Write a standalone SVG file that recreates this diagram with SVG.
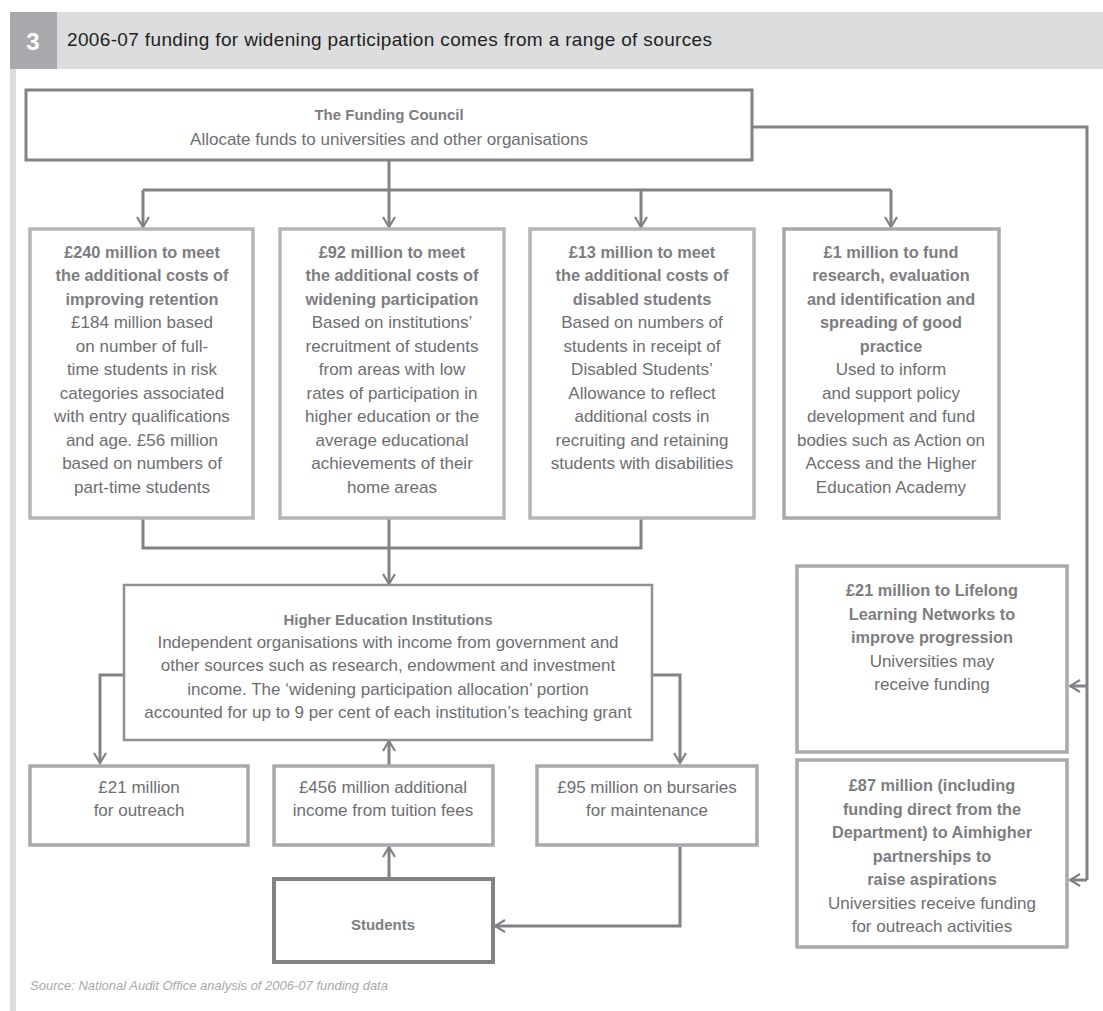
<svg xmlns="http://www.w3.org/2000/svg" width="1103" height="1011" viewBox="0 0 1103 1011">
<style>
text{font-family:"Liberation Sans",Arial,sans-serif;fill:#6d6e71;text-anchor:middle;font-size:17px}
.b{font-weight:bold;fill:#7d7d80;font-size:16.3px}
.t{font-weight:bold;fill:#7d7d80;font-size:15px}
.conn{fill:none;stroke:#808285;stroke-width:3}
.light{fill:#fff;stroke:#b4b5b8;stroke-width:3.5}
.mid{fill:#fff;stroke:#a7a9ac;stroke-width:3.5}
.dark{fill:#fff;stroke:#808285;stroke-width:3}
</style>
<defs>
<marker id="ar" markerUnits="userSpaceOnUse" viewBox="0 0 14 14" refX="12" refY="7" markerWidth="14" markerHeight="14" orient="auto">
<path d="M2,1 L12,7 L2,13" fill="none" stroke="#808285" stroke-width="2.2"/>
</marker>
</defs>
<rect x="0" y="0" width="1103" height="1011" fill="#fff"/>
<g id="header">
<rect x="10" y="12" width="1093" height="57" fill="#dcddde"/>
<rect x="10" y="12" width="47" height="57" fill="#a7a9ac"/>
<rect x="10" y="69" width="6" height="942" fill="#dcddde"/>
<text x="33" y="50" style="fill:#fff;font-weight:bold;font-size:24px">3</text>
<text x="67" y="46" textLength="645" style="fill:#231f20;font-size:19px;text-anchor:start">2006-07 funding for widening participation comes from a range of sources</text>
</g>
<g id="connectors">
<path class="conn" d="M389,160 V190"/>
<path class="conn" d="M143,190 H891"/>
<path class="conn" d="M143,190 V227" marker-end="url(#ar)"/>
<path class="conn" d="M389,190 V227" marker-end="url(#ar)"/>
<path class="conn" d="M641,190 V227" marker-end="url(#ar)"/>
<path class="conn" d="M891,190 V227" marker-end="url(#ar)"/>
<path class="conn" d="M143,519 V548 H641 V519"/>
<path class="conn" d="M389,519 V584" marker-end="url(#ar)"/>
<path class="conn" d="M124,675 H100 V763" marker-end="url(#ar)"/>
<path class="conn" d="M652,675 H680 V763" marker-end="url(#ar)"/>
<path class="conn" d="M389,765 V741" marker-end="url(#ar)"/>
<path class="conn" d="M389,878 V847" marker-end="url(#ar)"/>
<path class="conn" d="M680,847 V926 H495" marker-end="url(#ar)"/>
<path class="conn" d="M753,127 H1087 V880"/>
<path class="conn" d="M1087,686 H1070" marker-end="url(#ar)"/>
<path class="conn" d="M1087,880 H1070" marker-end="url(#ar)"/>
</g>
<g id="funding-council">
<rect class="dark" x="26" y="90" width="726" height="70"/>
<text class="t" x="389" y="120">The Funding Council</text>
<text x="389" y="145">Allocate funds to universities and other organisations</text>
</g>
<g id="retention">
<rect class="light" x="30" y="229" width="223" height="289"/>
<text class="b" x="142" y="258">£240 million to meet</text>
<text class="b" x="142" y="281">the additional costs of</text>
<text class="b" x="142" y="305">improving retention</text>
<text x="142" y="328">£184 million based</text>
<text x="142" y="352">on number of full-</text>
<text x="142" y="375">time students in risk</text>
<text x="142" y="399">categories associated</text>
<text x="142" y="422">with entry qualifications</text>
<text x="142" y="446">and age. £56 million</text>
<text x="142" y="469">based on numbers of</text>
<text x="142" y="493">part-time students</text>
</g>
<g id="widening">
<rect class="light" x="280" y="229" width="224" height="289"/>
<text class="b" x="392" y="258">£92 million to meet</text>
<text class="b" x="392" y="281">the additional costs of</text>
<text class="b" x="392" y="305">widening participation</text>
<text x="392" y="328">Based on institutions’</text>
<text x="392" y="352">recruitment of students</text>
<text x="392" y="375">from areas with low</text>
<text x="392" y="399">rates of participation in</text>
<text x="392" y="422">higher education or the</text>
<text x="392" y="446">average educational</text>
<text x="392" y="469">achievements of their</text>
<text x="392" y="493">home areas</text>
</g>
<g id="disabled">
<rect class="light" x="530" y="229" width="224" height="289"/>
<text class="b" x="642" y="258">£13 million to meet</text>
<text class="b" x="642" y="281">the additional costs of</text>
<text class="b" x="642" y="305">disabled students</text>
<text x="642" y="328">Based on numbers of</text>
<text x="642" y="352">students in receipt of</text>
<text x="642" y="375">Disabled Students’</text>
<text x="642" y="399">Allowance to reflect</text>
<text x="642" y="422">additional costs in</text>
<text x="642" y="446">recruiting and retaining</text>
<text x="642" y="469">students with disabilities</text>
</g>
<g id="research">
<rect class="mid" x="784" y="229" width="215" height="289"/>
<text class="b" x="891" y="258">£1 million to fund</text>
<text class="b" x="891" y="281">research, evaluation</text>
<text class="b" x="891" y="305">and identification and</text>
<text class="b" x="891" y="328">spreading of good</text>
<text class="b" x="891" y="352">practice</text>
<text x="891" y="375">Used to inform</text>
<text x="891" y="399">and support policy</text>
<text x="891" y="422">development and fund</text>
<text x="891" y="446">bodies such as Action on</text>
<text x="891" y="469">Access and the Higher</text>
<text x="891" y="493">Education Academy</text>
</g>
<g id="hei">
<rect x="124" y="585" width="528" height="155" fill="#fff" stroke="#8e9093" stroke-width="2.5"/>
<text class="t" x="388" y="625">Higher Education Institutions</text>
<text x="388" y="648">Independent organisations with income from government and</text>
<text x="388" y="671">other sources such as research, endowment and investment</text>
<text x="388" y="695">income. The ‘widening participation allocation’ portion</text>
<text x="388" y="718">accounted for up to 9 per cent of each institution’s teaching grant</text>
</g>
<g id="outreach">
<rect class="mid" x="30" y="766" width="218" height="79"/>
<text x="139" y="793">£21 million</text>
<text x="139" y="816">for outreach</text>
</g>
<g id="tuition">
<rect class="mid" x="274" y="766" width="219" height="79"/>
<text x="383" y="793">£456 million additional</text>
<text x="383" y="816">income from tuition fees</text>
</g>
<g id="bursaries">
<rect class="mid" x="537" y="766" width="220" height="79"/>
<text x="647" y="793">£95 million on bursaries</text>
<text x="647" y="816">for maintenance</text>
</g>
<g id="students">
<rect x="274" y="879" width="219" height="83" fill="#fff" stroke="#808285" stroke-width="4"/>
<text class="t" x="383" y="930">Students</text>
</g>
<g id="lifelong">
<rect class="mid" x="797" y="566" width="270" height="186"/>
<text class="b" x="932" y="596">£21 million to Lifelong</text>
<text class="b" x="932" y="620">Learning Networks to</text>
<text class="b" x="932" y="643">improve progression</text>
<text x="932" y="667">Universities may</text>
<text x="932" y="690">receive funding</text>
</g>
<g id="aimhigher">
<rect class="mid" x="797" y="760" width="270" height="187"/>
<text class="b" x="932" y="791">£87 million (including</text>
<text class="b" x="932" y="815">funding direct from the</text>
<text class="b" x="932" y="838">Department) to Aimhigher</text>
<text class="b" x="932" y="862">partnerships to</text>
<text class="b" x="932" y="885">raise aspirations</text>
<text x="932" y="909">Universities receive funding</text>
<text x="932" y="932">for outreach activities</text>
</g>
<g id="source">
<text x="30" y="990" style="text-anchor:start;font-style:italic;font-size:13px;fill:#a7a9ac">Source: National Audit Office analysis of 2006-07 funding data</text>
</g>
</svg>
